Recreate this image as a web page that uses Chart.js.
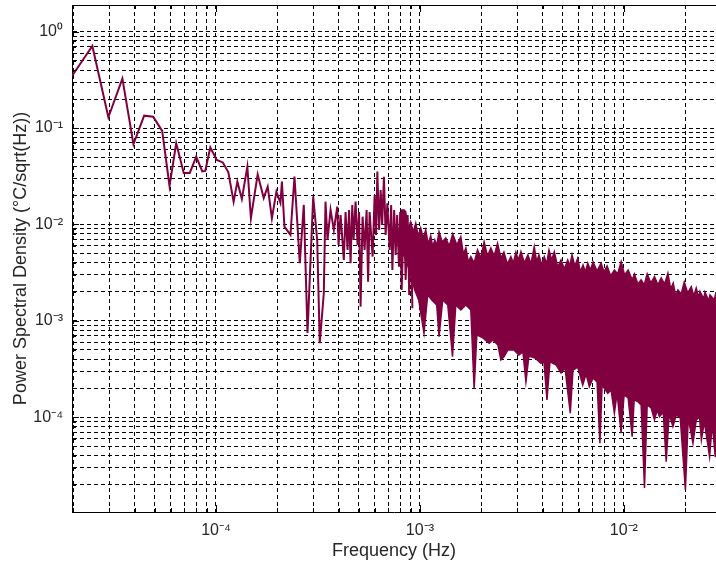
<!DOCTYPE html>
<html>
<head>
<meta charset="utf-8">
<title>Power Spectral Density</title>
<script src="https://cdn.jsdelivr.net/npm/chart.js@4.4.1/dist/chart.umd.min.js"></script>
<style>
    html, body { margin: 0; padding: 0; background: #fff; }
    canvas { display: block; }
</style>
</head>
<body>
<canvas id="psd-chart" width="716" height="568"></canvas>
<script>
// ---- Data ----

// Low-frequency part: individual spectral lines (Hz, degC/sqrt(Hz))
const lowFreq = [1.967e-5, 2.475e-5, 2.966e-5, 3.475e-5, 3.937e-5, 4.443e-5, 4.919e-5, 5.446e-5, 5.916e-5, 6.381e-5,
    6.947e-5, 7.435e-5, 8.0e-5, 8.564e-5, 8.859e-5, 9.376e-5, 1.009e-4, 1.080e-4, 1.149e-4, 1.220e-4,
    1.273e-4, 1.339e-4, 1.425e-4, 1.483e-4, 1.601e-4, 1.714e-4, 1.793e-4, 1.880e-4, 1.978e-4, 2.070e-4,
    2.105e-4, 2.166e-4, 2.318e-4, 2.426e-4, 2.576e-4, 2.695e-4, 2.810e-4, 2.997e-4, 3.135e-4, 3.228e-4,
    3.378e-4, 3.444e-4, 3.523e-4, 3.646e-4, 3.784e-4, 3.933e-4, 3.990e-4, 4.082e-4, 4.236e-4, 4.319e-4,
    4.418e-4, 4.493e-4, 4.571e-4, 4.659e-4, 4.727e-4, 4.836e-4, 4.946e-4, 5.031e-4, 5.117e-4, 5.235e-4,
    5.355e-4, 5.478e-4, 5.571e-4, 5.667e-4, 5.863e-4, 5.997e-4, 6.100e-4, 6.183e-4, 6.310e-4, 6.418e-4,
    6.528e-4, 6.662e-4, 6.791e-4, 6.923e-4, 7.106e-4, 7.228e-4, 7.327e-4, 7.477e-4, 7.605e-4, 7.735e-4,
    7.894e-4, 8.002e-4, 8.139e-4, 8.354e-4, 8.515e-4, 8.710e-4, 8.859e-4, 9.012e-4, 9.186e-4];
const lowPsd = [0.347, 0.711, 0.1294, 0.3254, 0.0679, 0.1345, 0.1313, 0.0933, 0.02507, 0.0696,
    0.0342, 0.0342, 0.0505, 0.0355, 0.0359, 0.0629, 0.0467, 0.0440, 0.0350, 0.01724,
    0.0278, 0.01839, 0.0398, 0.0116, 0.0330, 0.01883, 0.02466, 0.0116, 0.02189, 0.0167,
    0.0278, 0.00949, 0.00778, 0.0313, 0.00396, 0.01594, 7.49e-4, 0.01943, 0.0069, 5.86e-4,
    1.933e-3, 0.01724, 6.9e-3, 0.01414, 8.77e-3, 0.01530, 6.13e-3, 0.01254, 4.28e-3, 0.01348,
    5.44e-3, 0.01414, 3.96e-3, 0.01594, 6.9e-3, 0.01724, 6.13e-3, 0.01348, 1.404e-3, 0.01204,
    5.44e-3, 0.01414, 2.55e-3, 0.01348, 4.63e-3, 0.02023, 7.78e-3, 0.0353, 8.77e-3, 0.0228,
    9.88e-3, 0.0313, 7.78e-3, 0.0166, 5.44e-3, 0.01594, 3.37e-3, 0.01414, 4.83e-3, 0.01254,
    3.65e-3, 0.01348, 2.09e-3, 0.01414, 2.66e-3, 0.01254, 1.86e-3, 0.01062, 1.351e-3];

// Dense part: upper edge of the band
const topFreq = [8.048e-4, 8.354e-4, 8.515e-4, 8.761e-4, 9.012e-4, 9.271e-4, 9.537e-4, 9.808e-4, 1.009e-3, 1.038e-3,
    1.068e-3, 1.098e-3, 1.130e-3, 1.156e-3, 1.183e-3, 1.209e-3, 1.241e-3, 1.287e-3, 1.339e-3, 1.393e-3,
    1.449e-3, 1.517e-3, 1.587e-3, 1.633e-3, 1.680e-3, 1.727e-3, 1.777e-3, 1.845e-3, 1.917e-3, 1.990e-3,
    2.065e-3, 2.147e-3, 2.228e-3, 2.313e-3, 2.403e-3, 2.496e-3, 2.582e-3, 2.685e-3, 2.794e-3, 2.874e-3,
    2.956e-3, 3.042e-3, 3.129e-3, 3.255e-3, 3.386e-3, 3.503e-3, 3.637e-3, 3.737e-3, 3.835e-3, 3.954e-3,
    4.072e-3, 4.185e-3, 4.295e-3, 4.429e-3, 4.560e-3, 4.740e-3, 4.920e-3, 5.108e-3, 5.307e-3, 5.435e-3,
    5.571e-3, 5.752e-3, 5.943e-3, 6.120e-3, 6.310e-3, 6.477e-3, 6.655e-3, 6.855e-3, 7.066e-3, 7.393e-3,
    7.734e-3, 8.004e-3, 8.279e-3, 8.620e-3, 8.991e-3, 9.333e-3, 9.700e-3, 1.009e-2, 1.050e-2, 1.099e-2,
    1.127e-2, 1.172e-2, 1.216e-2, 1.259e-2, 1.302e-2, 1.358e-2, 1.414e-2, 1.470e-2, 1.525e-2, 1.585e-2,
    1.645e-2, 1.697e-2, 1.747e-2, 1.796e-2, 1.843e-2, 1.911e-2, 1.979e-2, 2.058e-2, 2.142e-2, 2.203e-2,
    2.266e-2, 2.331e-2, 2.363e-2, 2.466e-2, 2.500e-2, 2.611e-2, 2.646e-2, 2.779e-2, 2.832e-2];
const topPsd = [0.01414, 0.01414, 0.01358, 8.77e-3, 0.01062, 8.36e-3, 0.01029, 7.6e-3, 9.2e-3, 7.24e-3,
    8.77e-3, 6.27e-3, 7.6e-3, 5.84e-3, 6.9e-3, 5.98e-3, 8.42e-3, 6.58e-3, 7.24e-3, 5.98e-3,
    7.97e-3, 6.13e-3, 7.47e-3, 4.94e-3, 5.70e-3, 4.08e-3, 4.63e-3, 3.99e-3, 5.44e-3, 4.49e-3,
    6.63e-3, 4.71e-3, 5.70e-3, 4.71e-3, 6.38e-3, 4.49e-3, 5.18e-3, 3.89e-3, 4.63e-3, 3.99e-3,
    5.18e-3, 4.28e-3, 5.22e-3, 3.99e-3, 4.83e-3, 3.89e-3, 5.88e-3, 4.08e-3, 4.83e-3, 3.80e-3,
    4.63e-3, 3.89e-3, 5.44e-3, 4.28e-3, 5.22e-3, 3.62e-3, 4.28e-3, 3.45e-3, 4.28e-3, 3.71e-3,
    4.83e-3, 3.71e-3, 4.46e-3, 3.22e-3, 3.80e-3, 3.22e-3, 3.96e-3, 3.37e-3, 4.08e-3, 3.29e-3,
    3.96e-3, 3.22e-3, 3.71e-3, 2.92e-3, 3.37e-3, 3.07e-3, 4.11e-3, 2.99e-3, 3.37e-3, 2.66e-3,
    3.07e-3, 2.41e-3, 2.66e-3, 2.36e-3, 3.07e-3, 2.47e-3, 2.87e-3, 2.36e-3, 2.79e-3, 2.41e-3,
    3.12e-3, 2.14e-3, 2.47e-3, 1.81e-3, 2.09e-3, 1.90e-3, 2.53e-3, 1.95e-3, 2.26e-3, 1.81e-3,
    2.19e-3, 1.73e-3, 2.01e-3, 1.69e-3, 1.99e-3, 1.61e-3, 1.86e-3, 1.65e-3, 1.99e-3];

// Dense part: lower edge of the band, with the deep dips
const botFreq = [8.048e-4, 8.325e-4, 8.611e-4, 9.012e-4, 9.430e-4, 9.865e-4, 1.047e-3, 1.092e-3,
    1.143e-3, 1.209e-3, 1.241e-3, 1.294e-3, 1.370e-3, 1.445e-3, 1.500e-3, 1.587e-3, 1.680e-3, 1.777e-3,
    1.845e-3, 1.902e-3, 2.035e-3, 2.186e-3, 2.279e-3, 2.412e-3, 2.496e-3, 2.590e-3, 2.700e-3, 2.891e-3,
    3.059e-3, 3.201e-3, 3.311e-3, 3.425e-3, 3.666e-3, 3.924e-3, 4.059e-3, 4.199e-3, 4.343e-3, 4.650e-3,
    4.920e-3, 5.147e-3, 5.464e-3, 5.634e-3, 5.943e-3, 6.288e-3, 6.527e-3, 6.776e-3, 7.066e-3, 7.393e-3,
    7.632e-3, 7.825e-3, 8.345e-3, 8.662e-3, 8.991e-3, 9.271e-3, 9.700e-3, 1.003e-2, 1.050e-2, 1.099e-2,
    1.124e-2, 1.176e-2, 1.216e-2, 1.263e-2, 1.302e-2, 1.362e-2, 1.414e-2, 1.457e-2, 1.496e-2, 1.560e-2,
    1.614e-2, 1.669e-2, 1.741e-2, 1.807e-2, 1.891e-2, 2.005e-2, 2.070e-2, 2.183e-2, 2.266e-2, 2.352e-2,
    2.401e-2, 2.484e-2, 2.634e-2, 2.716e-2, 2.809e-2, 2.832e-2];
const botPsd = [6.9e-3, 4.83e-3, 4.08e-3, 2.99e-3, 2.09e-3, 1.647e-3, 7.44e-4, 1.86e-3,
    1.647e-3, 1.462e-3, 6.86e-4, 1.647e-3, 1.462e-3, 4.25e-4, 1.462e-3, 1.297e-3, 1.462e-3, 1.297e-3,
    1.966e-4, 7.14e-4, 6.65e-4, 5.86e-4, 6.34e-4, 5.62e-4, 3.93e-4, 4.25e-4, 4.99e-4, 4.99e-4,
    4.43e-4, 4.76e-4, 2.32e-4, 4.32e-4, 4.12e-4, 3.63e-4, 3.75e-4, 1.512e-4, 3.75e-4, 3.49e-4,
    2.88e-4, 3.25e-4, 1.100e-4, 3.09e-4, 3.32e-4, 2.16e-4, 2.81e-4, 2.08e-4, 2.56e-4, 2.32e-4,
    5.37e-5, 2.16e-4, 1.774e-4, 1.919e-4, 1.100e-4, 1.787e-4, 6.82e-5, 1.703e-4, 1.586e-4, 6.29e-5,
    1.512e-4, 1.441e-4, 1.342e-4, 1.848e-5, 1.342e-4, 1.249e-4, 9.38e-5, 1.190e-4, 1.014e-4, 1.135e-4,
    3.46e-5, 1.082e-4, 7.99e-5, 1.056e-4, 9.83e-5, 1.762e-5, 9.83e-5, 5.37e-5, 9.38e-5, 1.007e-4,
    5.81e-5, 8.94e-5, 3.90e-5, 8.58e-5, 3.86e-5, 8.32e-5];

// Axis decades and their labels
const xDecades = [1e-5, 1e-4, 1e-3, 1e-2];
const xDecadeLabels = ['10\u207B\u2075', '10\u207B\u2074', '10\u207B\u00B3', '10\u207B\u00B2'];
const yDecades = [1e-5, 1e-4, 1e-3, 1e-2, 1e-1, 1];
const yDecadeLabels = ['10\u207B\u2075', '10\u207B\u2074', '10\u207B\u00B3', '10\u207B\u00B2', '10\u207B\u00B9', '10\u2070'];

const xRange = [1.967e-5, 2.832e-2];
const yRange = [1.04e-5, 1.89];

const LINE_COLOR = '#800040';
const TEXT_COLOR = '#262626';
const FONT = 'Arial, "Liberation Sans", Helvetica, sans-serif';

// ---- Helpers ----
const toPoints = (xs, ys) => xs.map((x, i) => ({ x: x, y: ys[i] }));

// every 1..9 multiple of each decade, inside the range
const logGridTicks = function (decades, range) {
    const ticks = [];
    decades.forEach(d => {
        for (let m = 1; m <= 9; m++) {
            const v = m * d;
            if (v >= range[0] * 0.9999 && v <= range[1] * 1.0001) {
                ticks.push({ value: v, major: m === 1 });
            }
        }
    });
    return ticks;
};

const decadeLabel = function (value, decades, labels) {
    for (let i = 0; i < decades.length; i++) {
        if (Math.abs(value / decades[i] - 1) < 1e-6) {
            return labels[i];
        }
    }
    return '';
};

// top border and inward tick marks, as in the original figure
const frameTicks = {
    id: 'frameTicks',
    afterDraw: function (chart) {
        const { ctx, chartArea: a } = chart;
        const xs = chart.scales.x;
        const ys = chart.scales.y;
        ctx.save();
        ctx.strokeStyle = '#000';
        ctx.lineWidth = 1;
        ctx.setLineDash([]);
        ctx.beginPath();
        ctx.moveTo(a.left, Math.round(a.top) + 0.5);
        ctx.lineTo(a.right, Math.round(a.top) + 0.5);
        xs.ticks.forEach(t => {
            const px = Math.round(xs.getPixelForValue(t.value)) + 0.5;
            const len = t.major ? 7 : 4;
            ctx.moveTo(px, a.bottom);
            ctx.lineTo(px, a.bottom - len);
            ctx.moveTo(px, a.top);
            ctx.lineTo(px, a.top + len);
        });
        ys.ticks.forEach(t => {
            const py = Math.round(ys.getPixelForValue(t.value)) + 0.5;
            const len = t.major ? 7 : 4;
            ctx.moveTo(a.left, py);
            ctx.lineTo(a.left + len, py);
        });
        ctx.stroke();
        ctx.restore();
    }
};

// ---- Chart ----
const el = document.getElementById('psd-chart');
new Chart(el.getContext('2d'), {
    type: 'line',
    data: {
        datasets: [
            {
                label: 'PSD',
                data: toPoints(lowFreq, lowPsd),
                borderColor: LINE_COLOR,
                borderWidth: 2,
                pointRadius: 0,
                tension: 0,
                fill: false
            },
            {
                label: 'PSD band top',
                data: toPoints(topFreq, topPsd),
                borderColor: LINE_COLOR,
                backgroundColor: LINE_COLOR,
                borderWidth: 1.5,
                pointRadius: 0,
                tension: 0,
                fill: '+1'
            },
            {
                label: 'PSD band bottom',
                data: toPoints(botFreq, botPsd),
                borderColor: LINE_COLOR,
                borderWidth: 1.5,
                pointRadius: 0,
                tension: 0,
                fill: false
            }
        ]
    },
    options: {
        responsive: false,
        animation: false,
        devicePixelRatio: 1,
        layout: { padding: { top: 5, right: 0, bottom: 0, left: 0 } },
        plugins: {
            legend: { display: false },
            tooltip: { enabled: false }
        },
        scales: {
            x: {
                type: 'logarithmic',
                min: xRange[0],
                max: xRange[1],
                afterBuildTicks: function (scale) {
                    scale.ticks = logGridTicks(xDecades, xRange);
                },
                afterFit: function (scale) {
                    scale.height = 56;
                    scale.paddingLeft = 0;
                    scale.paddingRight = 0;
                },
                grid: { color: '#000', lineWidth: 1, drawTicks: false },
                border: { display: true, color: '#000', width: 1, dash: [4, 3] },
                ticks: {
                    autoSkip: false,
                    maxRotation: 0,
                    padding: 9,
                    color: TEXT_COLOR,
                    font: { family: FONT, size: 16 },
                    callback: function (value) {
                        return decadeLabel(value, xDecades, xDecadeLabels);
                    }
                },
                title: {
                    display: true,
                    text: 'Frequency (Hz)',
                    color: TEXT_COLOR,
                    font: { family: FONT, size: 18 },
                    padding: { top: 0, bottom: 6 }
                }
            },
            y: {
                type: 'logarithmic',
                min: yRange[0],
                max: yRange[1],
                afterBuildTicks: function (scale) {
                    scale.ticks = logGridTicks(yDecades, yRange);
                },
                afterFit: function (scale) {
                    scale.width = 72;
                    scale.paddingTop = 0;
                    scale.paddingBottom = 0;
                },
                grid: { color: '#000', lineWidth: 1, drawTicks: false },
                border: { display: true, color: '#000', width: 1, dash: [4, 3] },
                ticks: {
                    autoSkip: false,
                    padding: 9,
                    color: TEXT_COLOR,
                    font: { family: FONT, size: 16 },
                    callback: function (value) {
                        return decadeLabel(value, yDecades, yDecadeLabels);
                    }
                },
                title: {
                    display: true,
                    text: 'Power Spectral Density (\u00B0C/sqrt(Hz))',
                    color: TEXT_COLOR,
                    font: { family: FONT, size: 18 },
                    padding: { top: 10, bottom: 0 }
                }
            }
        }
    },
    plugins: [frameTicks]
});
</script>
</body>
</html>
